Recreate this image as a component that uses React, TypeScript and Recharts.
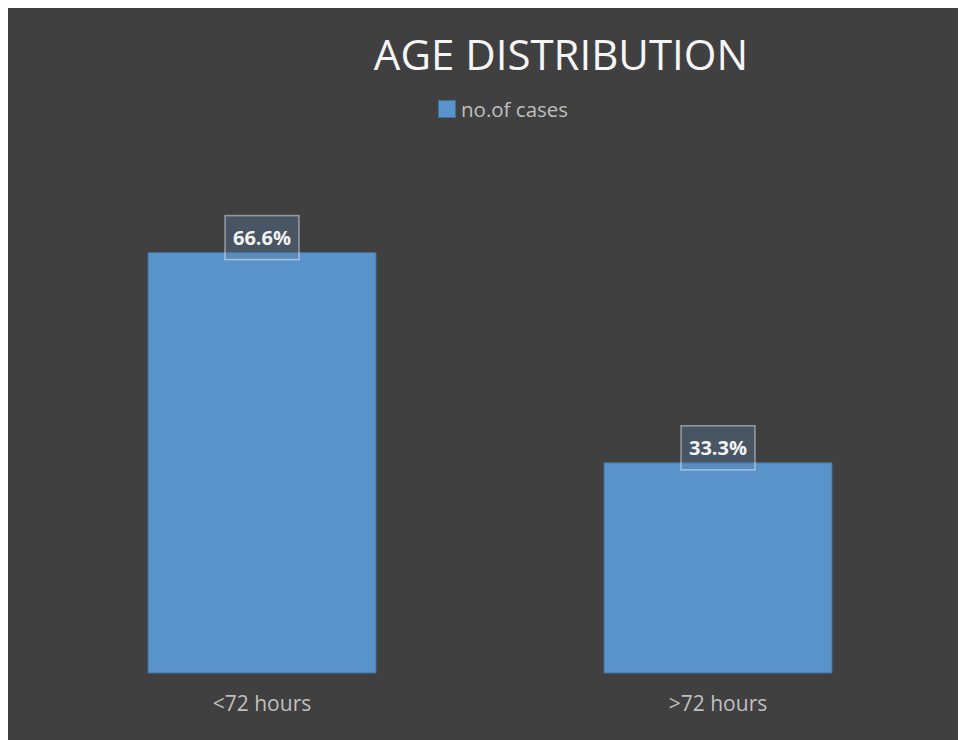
import { BarChart, Bar, XAxis, YAxis, LabelList } from 'recharts';

const categories = ['<72 hours', '>72 hours'];
const cases = [66.6, 33.3];

const data = categories.map((c, i) => ({ name: c, cases: cases[i] }));

const FONT = '"Open Sans", "Noto Sans", sans-serif';

function BoxLabel(props: any) {
  const { x, y, width, value } = props;
  const cx = x + width / 2;
  return (
    <g>
      <rect
        x={cx - 37}
        y={y - 37}
        width={74}
        height={44}
        fill="#5a7fa6"
        fillOpacity={0.35}
        stroke="#ffffff"
        strokeOpacity={0.45}
        strokeWidth={1.5}
      />
      <text
        x={cx}
        y={y - 15}
        textAnchor="middle"
        dominantBaseline="central"
        fill="#f2f2f2"
        fontWeight={700}
        fontSize={20}
        fontFamily={FONT}
      >
        {value.toFixed(1)}%
      </text>
    </g>
  );
}

export default function App() {
  return (
    <div
      style={{
        position: 'relative',
        left: -1,
        top: -2,
        width: 959,
        height: 736,
        background: '#404040',
        border: '1px solid #5a5a5a',
        boxSizing: 'border-box',
      }}
    >
      <div
        style={{
          position: 'absolute',
          left: 0,
          width: 1106,
          top: 18,
          textAlign: 'center',
          color: '#f5f5f5',
          fontFamily: FONT,
          fontSize: 42,
        }}
      >
        AGE DISTRIBUTION
      </div>
      {/* legend */}
      <div
        style={{
          position: 'absolute',
          top: 88,
          left: 430,
          display: 'flex',
          alignItems: 'center',
          fontFamily: FONT,
        }}
      >
        <span
          style={{
            display: 'inline-block',
            width: 18,
            height: 18,
            background: '#5a93c9',
            border: '1px solid #3f6f9f',
            boxSizing: 'border-box',
            marginRight: 5,
          }}
        />
        <span style={{ color: '#bfbfbf', fontSize: 20.5 }}>no.of cases</span>
      </div>
      <BarChart
        width={957}
        height={734}
        data={data}
        margin={{ top: 161, right: 19, bottom: 28, left: 26 }}
        barSize={228}
      >
        <XAxis
          dataKey="name"
          axisLine={false}
          tickLine={false}
          tickMargin={17}
          height={40}
          tick={{ fill: '#bfbfbf', fontSize: 21, fontFamily: FONT }}
        />
        <YAxis hide domain={[0, 80]} />
        <Bar dataKey="cases" fill="#5a93c9" stroke="#3f6f9f" strokeWidth={1} isAnimationActive={false}>
          <LabelList dataKey="cases" content={<BoxLabel />} />
        </Bar>
      </BarChart>
    </div>
  );
}
